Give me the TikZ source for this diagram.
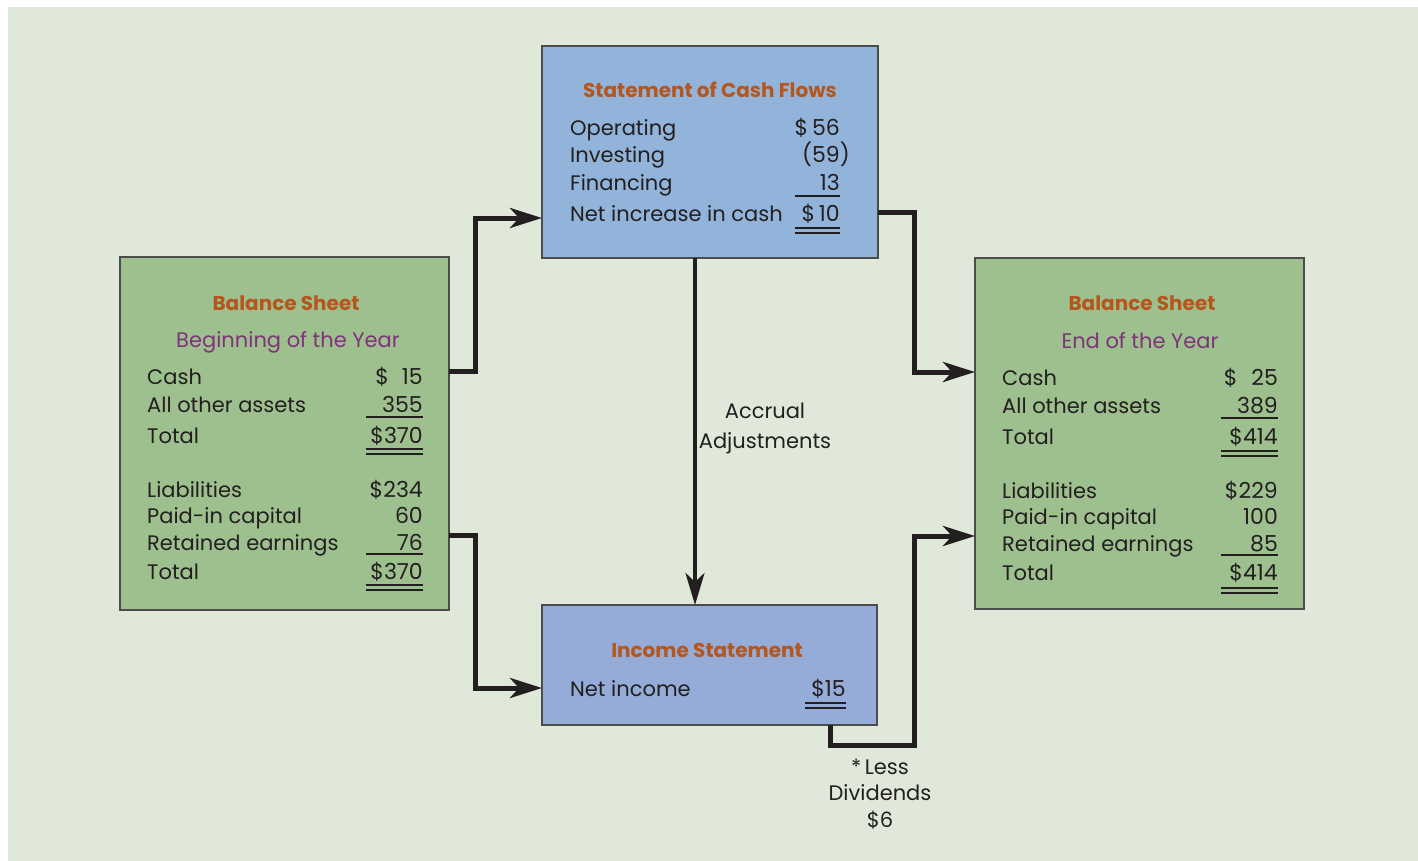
\documentclass[tikz,border=0pt]{standalone}
\usepackage{fontspec}
\setmainfont{Poppins}
\usetikzlibrary{arrows.meta}
\definecolor{bg}{HTML}{DFE8D9}
\definecolor{cfblue}{HTML}{93B4DA}
\definecolor{isblue}{HTML}{94ACD7}
\definecolor{bsgreen}{HTML}{9DC08E}
\definecolor{ttlc}{HTML}{B5561C}
\definecolor{subc}{HTML}{7E3479}
\definecolor{txt}{HTML}{231F20}
\newcommand{\bodyfont}{\fontsize{21}{25}\selectfont}
\newcommand{\numfont}{\fontsize{22}{25}\selectfont}
\newcommand{\ttlfont}{\fontsize{20}{24}\selectfont\bfseries}
\begin{document}
\begin{tikzpicture}[x=1pt,y=-1pt,
  box/.style={draw=black!70, line width=1.2pt, inner sep=0pt, outer sep=0pt, anchor=north west},
  lt/.style={anchor=base west, inner sep=0pt, text=txt, font=\bodyfont},
  rt/.style={anchor=base east, inner sep=0pt, text=txt, font=\numfont},
  ct/.style={anchor=base, inner sep=0pt, text=txt, font=\bodyfont},
  ttl/.style={anchor=base, inner sep=0pt, text=ttlc, font=\ttlfont},
  subt/.style={anchor=base, inner sep=0pt, text=subc, font=\bodyfont},
  rule/.style={draw=txt, line width=2pt},
  flow/.style={draw=txt, line width=5pt, miter limit=10, -{Stealth[length=32pt,width=20pt,inset=9pt]}},
  flowv/.style={draw=txt, line width=4pt, -{Stealth[length=32pt,width=19pt,inset=9pt]}}]
\useasboundingbox (0,0) rectangle (1418,861);
\fill[white] (0,0) rectangle (1418,861);
\fill[bg] (8,7) rectangle (1418,861);

% boxes
\node[box, fill=cfblue, minimum width=336pt, minimum height=212pt] (cf) at (542,46) {};
\node[box, fill=isblue, minimum width=335pt, minimum height=120pt] (is) at (542,605) {};
\node[box, fill=bsgreen, minimum width=329pt, minimum height=353pt] (lbs) at (120,257) {};
\node[box, fill=bsgreen, minimum width=329pt, minimum height=351pt] (rbs) at (975,258) {};

% statement of cash flows
\node[ttl] (cft) at (710,98) {Statement of Cash Flows};
\node[lt] (cf1) at (570,136) {Operating};
\node[lt] (cf2) at (570,163) {Investing};
\node[lt] (cf3) at (570,190) {Financing};
\node[lt] (cf4) at (570,221) {Net increase in cash};
\node[rt] (cv1) at (840,136) {\$\,56};
\node[rt] (cv2) at (840,163) {(59\rlap{)}};
\node[rt] (cv3) at (840,190) {13};
\node[rt] (cv4) at (840,221) {\$\,10};
\draw[rule] (795,196) -- (840,196);
\draw[rule] (795,228) -- (840,228);
\draw[rule] (795,233) -- (840,233);

% left balance sheet
\node[ttl] (lt1) at (286,310) {Balance Sheet};
\node[subt] (lt2) at (288,347) {Beginning of the Year};
\node[lt] (l1) at (147,384) {Cash};
\node[lt] (l2) at (147,412) {All other assets};
\node[lt] (l3) at (147,443) {Total};
\node[lt] (l4) at (147,497) {Liabilities};
\node[lt] (l5) at (147,523) {Paid-in capital};
\node[lt] (l6) at (147,550) {Retained earnings};
\node[lt] (l7) at (147,579) {Total};
\node[rt] (lv1) at (423,384) {\$\phantom{3}15};
\node[rt] (lv2) at (423,412) {355};
\node[rt] (lv3) at (423,443) {\$370};
\node[rt] (lv4) at (423,497) {\$234};
\node[rt] (lv5) at (423,523) {60};
\node[rt] (lv6) at (423,550) {76};
\node[rt] (lv7) at (423,579) {\$370};
\draw[rule] (366,417) -- (423,417);
\draw[rule] (366,449) -- (423,449);
\draw[rule] (366,454) -- (423,454);
\draw[rule] (366,554) -- (423,554);
\draw[rule] (366,585) -- (423,585);
\draw[rule] (366,590) -- (423,590);

% right balance sheet
\node[ttl] (rt1) at (1142,310) {Balance Sheet};
\node[subt] (rt2) at (1140,348) {End of the Year};
\node[lt] (r1) at (1002,385) {Cash};
\node[lt] (r2) at (1002,413) {All other assets};
\node[lt] (r3) at (1002,444) {Total};
\node[lt] (r4) at (1002,498) {Liabilities};
\node[lt] (r5) at (1002,524) {Paid-in capital};
\node[lt] (r6) at (1002,551) {Retained earnings};
\node[lt] (r7) at (1002,580) {Total};
\node[rt] (rv1) at (1278,385) {\$\phantom{4}25};
\node[rt] (rv2) at (1278,413) {389};
\node[rt] (rv3) at (1278,444) {\$414};
\node[rt] (rv4) at (1278,498) {\$229};
\node[rt] (rv5) at (1278,524) {100};
\node[rt] (rv6) at (1278,551) {85};
\node[rt] (rv7) at (1278,580) {\$414};
\draw[rule] (1221,418) -- (1278,418);
\draw[rule] (1221,451) -- (1278,451);
\draw[rule] (1221,456) -- (1278,456);
\draw[rule] (1221,555) -- (1278,555);
\draw[rule] (1221,588) -- (1278,588);
\draw[rule] (1221,593) -- (1278,593);

% income statement
\node[ttl] (ist) at (707,657) {Income Statement};
\node[lt] (is1) at (570,696) {Net income};
\node[rt] (isv) at (846,696) {\$15};
\draw[rule] (805,703) -- (846,703);
\draw[rule] (805,708) -- (846,708);

% labels
\node[ct] (acc1) at (765,418) {Accrual};
\node[ct] (acc2) at (765,448) {Adjustments};
\node[ct] (div1) at (880,774) {*\,Less};
\node[ct] (div2) at (880,800) {Dividends};
\node[ct] (div3) at (880,827) {\$6};

% connectors
\draw[flow] ([yshift=62.5pt]lbs.east) -- ++(26,0) |- ([yshift=-66pt]cf.west);
\draw[flow] ([yshift=-101.5pt]lbs.east) -- ++(26,0) |- ([yshift=-23pt]is.west);
\draw[flow] ([yshift=-60pt]cf.east) -- ++(36,0) |- ([yshift=61.5pt]rbs.west);
\draw[flowv] ([xshift=-15pt]cf.south) -- ([xshift=-15pt]cf.south |- is.north);
\draw[flow] ([xshift=120.5pt]is.south) -- ++(0,20) -- ++(84,0) |- ([yshift=-102.5pt]rbs.west);
\end{tikzpicture}
\end{document}
